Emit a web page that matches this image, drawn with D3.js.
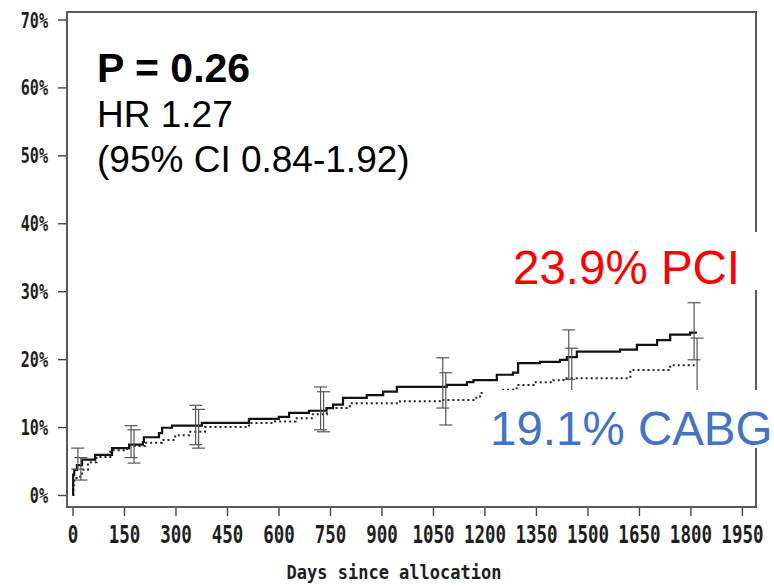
<!DOCTYPE html>
<html>
<head>
<meta charset="utf-8">
<script src="https://cdn.jsdelivr.net/npm/d3@7"></script>
<style>
  body { margin: 0; background: #fff; }
  svg { display: block; }
</style>
</head>
<body>
<div id="chart"></div>
<script>
// Kaplan-Meier style cumulative event curves
const pciDays = [0, 2, 5, 13, 28, 66, 115, 165, 205, 208, 252, 261, 290, 377, 514, 601, 631, 689, 740, 759, 788, 857, 905, 945, 1090, 1149, 1168, 1236, 1283, 1298, 1362, 1420, 1440, 1469, 1595, 1644, 1703, 1741, 1799, 1819];
const pciPct  = [0, 3.0, 3.7, 4.4, 5.2, 5.9, 6.9, 7.4, 7.8, 8.5, 9.1, 9.9, 10.2, 10.6, 11.2, 11.5, 12.1, 12.4, 12.8, 13.3, 14.3, 14.7, 15.2, 15.9, 16.2, 16.6, 16.9, 17.7, 18.0, 19.4, 19.6, 19.9, 20.3, 21.1, 21.4, 22.1, 22.8, 23.6, 23.9, 23.9];

const cabgDays = [0, 2, 5, 12, 28, 45, 70, 110, 160, 211, 261, 299, 340, 386, 514, 590, 650, 700, 741, 808, 954, 1070, 1168, 1187, 1245, 1294, 1343, 1400, 1430, 1625, 1741, 1819];
const cabgPct  = [0, 1.5, 2.2, 2.7, 3.7, 4.8, 5.6, 6.6, 7.2, 7.7, 8.1, 8.8, 9.3, 10.0, 10.6, 10.8, 11.3, 11.9, 12.8, 13.5, 13.8, 14.0, 14.3, 15.0, 15.5, 16.2, 16.6, 16.9, 17.2, 18.4, 19.1, 19.1];

// confidence intervals at fixed time points
const ciDays = [20, 175, 363, 727, 1083, 1450, 1815];
const pciLo  = [3.8, 5.5, 7.4, 9.6, 12.8, 17.0, 19.9];
const pciHi  = [6.9, 10.2, 13.2, 15.9, 20.2, 24.3, 28.3];
const cabgLo = [2.2, 4.7, 6.9, 9.3, 10.3, 13.2, 15.0];
const cabgHi = [5.5, 9.6, 12.6, 15.2, 18.0, 21.6, 23.1];

const xTicks = [0, 150, 300, 450, 600, 750, 900, 1050, 1200, 1350, 1500, 1650, 1800, 1950];
const yTicks = [0, 10, 20, 30, 40, 50, 60, 70];

const statLines = ["P = 0.26", "HR 1.27", "(95% CI 0.84-1.92)"];
const pciLabel = "23.9% PCI";
const cabgLabel = "19.1% CABG";
const xTitle = "Days since allocation";

const width = 774, height = 587;
const plot = { left: 67, top: 12, right: 756, bottom: 507 };
const axisFont = "'DejaVu Sans Mono', monospace";

const svg = d3.select("#chart")
    .append("svg")
    .attr("width", width)
    .attr("height", height);

svg.append("rect")
    .attr("width", width)
    .attr("height", height)
    .attr("fill", "#fff");

const x = d3.scaleLinear()
    .domain([-16, 1991])
    .range([plot.left, plot.right]);

const y = d3.scaleLinear()
    .domain([-1.77, 71.1])
    .range([plot.bottom, plot.top]);

// x axis
const gx = svg.append("g")
    .attr("transform", `translate(0,${plot.bottom})`)
    .call(d3.axisBottom(x).tickValues(xTicks).tickSize(9).tickPadding(9).tickFormat(d3.format("d")));
gx.select(".domain").remove();
gx.selectAll(".tick line").attr("stroke", "#444").attr("stroke-width", 1.4);
gx.selectAll(".tick text")
    .attr("fill", "#1e1e1e")
    .style("font-family", axisFont)
    .style("font-size", "25px")
    .style("font-weight", "bold")
    .attr("transform", "scale(0.7,1)");

// y axis
const gy = svg.append("g")
    .attr("transform", `translate(${plot.left},0)`)
    .call(d3.axisLeft(y).tickValues(yTicks).tickSize(9).tickFormat(d => d + "%"));
gy.select(".domain").remove();
gy.selectAll(".tick line").attr("stroke", "#444").attr("stroke-width", 1.4);
gy.selectAll(".tick text")
    .attr("fill", "#1e1e1e")
    .attr("x", -19 / 0.72)
    .attr("dy", "0.36em")
    .style("font-family", axisFont)
    .style("font-size", "21px")
    .style("font-weight", "bold")
    .attr("transform", "scale(0.72,1)");

// frame
svg.append("rect")
    .attr("x", plot.left)
    .attr("y", plot.top)
    .attr("width", plot.right - plot.left)
    .attr("height", plot.bottom - plot.top)
    .attr("fill", "none")
    .attr("stroke", "#5a5a5a")
    .attr("stroke-width", 2);

// x title
svg.append("text")
    .attr("transform", "translate(394,579) scale(0.85,1)")
    .attr("text-anchor", "middle")
    .attr("fill", "#1e1e1e")
    .style("font-family", axisFont)
    .style("font-size", "20px")
    .style("font-weight", "bold")
    .text(xTitle);

// curves
const line = d3.line()
    .x(d => x(d[0]))
    .y(d => y(d[1]))
    .curve(d3.curveStepAfter);

svg.append("path")
    .datum(cabgDays.map((d, i) => [d, cabgPct[i]]))
    .attr("d", line)
    .attr("fill", "none")
    .attr("stroke", "#222")
    .attr("stroke-width", 2)
    .attr("stroke-dasharray", "2,3");

svg.append("path")
    .datum(pciDays.map((d, i) => [d, pciPct[i]]))
    .attr("d", line)
    .attr("fill", "none")
    .attr("stroke", "#111")
    .attr("stroke-width", 2.2);

// error bars
const capW = 6.5;
function drawBars(lo, hi, offset) {
    const g = svg.append("g")
        .attr("stroke", "#555")
        .attr("stroke-width", 1.2);
    ciDays.forEach((d, i) => {
        const cx = x(d) + offset;
        g.append("line").attr("x1", cx).attr("x2", cx).attr("y1", y(lo[i])).attr("y2", y(hi[i]));
        g.append("line").attr("x1", cx - capW).attr("x2", cx + capW).attr("y1", y(lo[i])).attr("y2", y(lo[i]));
        g.append("line").attr("x1", cx - capW).attr("x2", cx + capW).attr("y1", y(hi[i])).attr("y2", y(hi[i]));
    });
}
drawBars(pciLo, pciHi, -1.5);
drawBars(cabgLo, cabgHi, 1.5);

// annotation boxes
svg.append("rect").attr("x", 80).attr("y", 30).attr("width", 335).attr("height", 155).attr("fill", "#fff");
svg.append("rect").attr("x", 505).attr("y", 232).attr("width", 260).attr("height", 58).attr("fill", "#fff");
svg.append("rect").attr("x", 485).attr("y", 390).attr("width", 289).attr("height", 58).attr("fill", "#fff");

const ann = svg.append("g").style("font-family", "'Liberation Sans', Arial, sans-serif");

ann.append("text")
    .attr("x", 97).attr("y", 82)
    .style("font-size", "41px")
    .style("font-weight", "bold")
    .attr("fill", "#000")
    .text(statLines[0]);

ann.append("text")
    .attr("x", 97).attr("y", 127)
    .style("font-size", "37px")
    .attr("fill", "#000")
    .text(statLines[1]);

ann.append("text")
    .attr("x", 97).attr("y", 172)
    .style("font-size", "37px")
    .attr("fill", "#000")
    .text(statLines[2]);

ann.append("text")
    .attr("x", 513).attr("y", 284)
    .style("font-size", "47.5px")
    .attr("fill", "#ff0000")
    .text(pciLabel);

ann.append("text")
    .attr("x", 490).attr("y", 445)
    .style("font-size", "47.5px")
    .attr("fill", "#4472c4")
    .text(cabgLabel);
</script>
</body>
</html>
